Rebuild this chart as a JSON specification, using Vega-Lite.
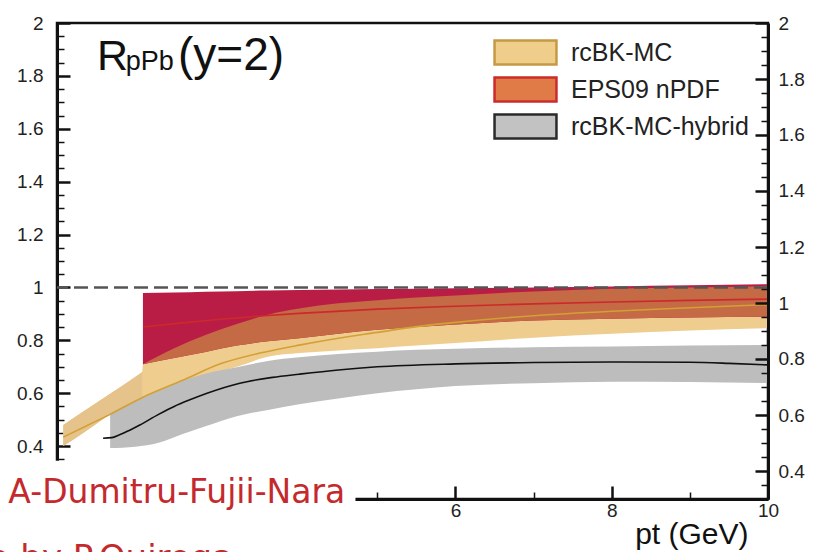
{
  "$schema": "https://vega.github.io/schema/vega-lite/v6.json",
  "width": 711,
  "height": 476,
  "autosize": {"type": "none"},
  "padding": {"left": 57, "top": 23, "right": 47, "bottom": 53},
  "background": "white",
  "config": {"view": {"stroke": "#111", "strokeWidth": 2.5}, "font": "Liberation Sans"},
  "datasets": {
    "bands": [
      {"series": "rcBK-MC", "pt": 0.98, "lo": 0.40, "hi": 0.48},
      {"series": "rcBK-MC", "pt": 1.3, "lo": 0.463, "hi": 0.543},
      {"series": "rcBK-MC", "pt": 1.58, "lo": 0.52, "hi": 0.598},
      {"series": "rcBK-MC", "pt": 1.99, "lo": 0.57, "hi": 0.68},
      {"series": "rcBK-MC", "pt": 2.0, "lo": 0.575, "hi": 0.71},
      {"series": "rcBK-MC", "pt": 2.4, "lo": 0.62, "hi": 0.77},
      {"series": "rcBK-MC", "pt": 2.8, "lo": 0.665, "hi": 0.82},
      {"series": "rcBK-MC", "pt": 3.2, "lo": 0.70, "hi": 0.862},
      {"series": "rcBK-MC", "pt": 3.6, "lo": 0.738, "hi": 0.897},
      {"series": "rcBK-MC", "pt": 4.0, "lo": 0.752, "hi": 0.92},
      {"series": "rcBK-MC", "pt": 4.5, "lo": 0.762, "hi": 0.94},
      {"series": "rcBK-MC", "pt": 5.0, "lo": 0.77, "hi": 0.952},
      {"series": "rcBK-MC", "pt": 5.5, "lo": 0.78, "hi": 0.962},
      {"series": "rcBK-MC", "pt": 6.0, "lo": 0.79, "hi": 0.97},
      {"series": "rcBK-MC", "pt": 7.0, "lo": 0.81, "hi": 0.985},
      {"series": "rcBK-MC", "pt": 8.0, "lo": 0.825, "hi": 0.995},
      {"series": "rcBK-MC", "pt": 9.0, "lo": 0.837, "hi": 1.0},
      {"series": "rcBK-MC", "pt": 10.0, "lo": 0.846, "hi": 1.005},
      {"series": "EPS09 nPDF", "pt": 2.0, "lo": 0.71, "hi": 0.979},
      {"series": "EPS09 nPDF", "pt": 2.4, "lo": 0.733, "hi": 0.981},
      {"series": "EPS09 nPDF", "pt": 2.8, "lo": 0.756, "hi": 0.984},
      {"series": "EPS09 nPDF", "pt": 3.2, "lo": 0.78, "hi": 0.986},
      {"series": "EPS09 nPDF", "pt": 3.6, "lo": 0.797, "hi": 0.988},
      {"series": "EPS09 nPDF", "pt": 4.0, "lo": 0.808, "hi": 0.99},
      {"series": "EPS09 nPDF", "pt": 4.5, "lo": 0.825, "hi": 0.992},
      {"series": "EPS09 nPDF", "pt": 5.0, "lo": 0.84, "hi": 0.994},
      {"series": "EPS09 nPDF", "pt": 5.5, "lo": 0.85, "hi": 0.995},
      {"series": "EPS09 nPDF", "pt": 6.0, "lo": 0.86, "hi": 0.997},
      {"series": "EPS09 nPDF", "pt": 7.0, "lo": 0.875, "hi": 1.0},
      {"series": "EPS09 nPDF", "pt": 8.0, "lo": 0.882, "hi": 1.004},
      {"series": "EPS09 nPDF", "pt": 9.0, "lo": 0.886, "hi": 1.008},
      {"series": "EPS09 nPDF", "pt": 10.0, "lo": 0.889, "hi": 1.012},
      {"series": "overlap", "pt": 2.0, "lo": 0.71, "hi": 0.71},
      {"series": "overlap", "pt": 2.4, "lo": 0.733, "hi": 0.77},
      {"series": "overlap", "pt": 2.8, "lo": 0.756, "hi": 0.82},
      {"series": "overlap", "pt": 3.2, "lo": 0.78, "hi": 0.862},
      {"series": "overlap", "pt": 3.6, "lo": 0.797, "hi": 0.897},
      {"series": "overlap", "pt": 4.0, "lo": 0.808, "hi": 0.92},
      {"series": "overlap", "pt": 4.5, "lo": 0.825, "hi": 0.94},
      {"series": "overlap", "pt": 5.0, "lo": 0.84, "hi": 0.952},
      {"series": "overlap", "pt": 5.5, "lo": 0.85, "hi": 0.962},
      {"series": "overlap", "pt": 6.0, "lo": 0.86, "hi": 0.97},
      {"series": "overlap", "pt": 7.0, "lo": 0.875, "hi": 0.985},
      {"series": "overlap", "pt": 8.0, "lo": 0.882, "hi": 0.995},
      {"series": "overlap", "pt": 9.0, "lo": 0.886, "hi": 1.0},
      {"series": "overlap", "pt": 10.0, "lo": 0.889, "hi": 1.005},
      {"series": "rcBK-MC-hybrid", "pt": 1.58, "lo": 0.393, "hi": 0.525},
      {"series": "rcBK-MC-hybrid", "pt": 1.9, "lo": 0.398, "hi": 0.572},
      {"series": "rcBK-MC-hybrid", "pt": 2.2, "lo": 0.413, "hi": 0.612},
      {"series": "rcBK-MC-hybrid", "pt": 2.5, "lo": 0.445, "hi": 0.647},
      {"series": "rcBK-MC-hybrid", "pt": 2.8, "lo": 0.475, "hi": 0.674},
      {"series": "rcBK-MC-hybrid", "pt": 3.2, "lo": 0.513, "hi": 0.698},
      {"series": "rcBK-MC-hybrid", "pt": 3.6, "lo": 0.537, "hi": 0.722},
      {"series": "rcBK-MC-hybrid", "pt": 4.0, "lo": 0.558, "hi": 0.736},
      {"series": "rcBK-MC-hybrid", "pt": 4.5, "lo": 0.58, "hi": 0.748},
      {"series": "rcBK-MC-hybrid", "pt": 5.0, "lo": 0.60, "hi": 0.757},
      {"series": "rcBK-MC-hybrid", "pt": 5.5, "lo": 0.615, "hi": 0.764},
      {"series": "rcBK-MC-hybrid", "pt": 6.0, "lo": 0.627, "hi": 0.768},
      {"series": "rcBK-MC-hybrid", "pt": 7.0, "lo": 0.638, "hi": 0.774},
      {"series": "rcBK-MC-hybrid", "pt": 8.0, "lo": 0.643, "hi": 0.777},
      {"series": "rcBK-MC-hybrid", "pt": 9.0, "lo": 0.642, "hi": 0.78},
      {"series": "rcBK-MC-hybrid", "pt": 10.0, "lo": 0.638, "hi": 0.782}
    ],
    "curves": [
      {"series": "rcBK-MC", "pt": 0.98, "r": 0.434},
      {"series": "rcBK-MC", "pt": 1.3, "r": 0.48},
      {"series": "rcBK-MC", "pt": 1.58, "r": 0.52},
      {"series": "rcBK-MC", "pt": 2.0, "r": 0.585},
      {"series": "rcBK-MC", "pt": 2.5, "r": 0.648},
      {"series": "rcBK-MC", "pt": 3.0, "r": 0.712},
      {"series": "rcBK-MC", "pt": 3.5, "r": 0.752},
      {"series": "rcBK-MC", "pt": 4.0, "r": 0.782},
      {"series": "rcBK-MC", "pt": 4.5, "r": 0.808},
      {"series": "rcBK-MC", "pt": 5.0, "r": 0.83},
      {"series": "rcBK-MC", "pt": 5.5, "r": 0.852},
      {"series": "rcBK-MC", "pt": 6.0, "r": 0.868},
      {"series": "rcBK-MC", "pt": 7.0, "r": 0.893},
      {"series": "rcBK-MC", "pt": 8.0, "r": 0.91},
      {"series": "rcBK-MC", "pt": 9.0, "r": 0.923},
      {"series": "rcBK-MC", "pt": 10.0, "r": 0.935},
      {"series": "EPS09 nPDF", "pt": 2.0, "r": 0.85},
      {"series": "EPS09 nPDF", "pt": 2.5, "r": 0.866},
      {"series": "EPS09 nPDF", "pt": 3.0, "r": 0.88},
      {"series": "EPS09 nPDF", "pt": 3.5, "r": 0.892},
      {"series": "EPS09 nPDF", "pt": 4.0, "r": 0.902},
      {"series": "EPS09 nPDF", "pt": 5.0, "r": 0.918},
      {"series": "EPS09 nPDF", "pt": 6.0, "r": 0.929},
      {"series": "EPS09 nPDF", "pt": 7.0, "r": 0.938},
      {"series": "EPS09 nPDF", "pt": 8.0, "r": 0.945},
      {"series": "EPS09 nPDF", "pt": 9.0, "r": 0.951},
      {"series": "EPS09 nPDF", "pt": 10.0, "r": 0.956},
      {"series": "rcBK-MC-hybrid", "pt": 1.49, "r": 0.43},
      {"series": "rcBK-MC-hybrid", "pt": 1.6, "r": 0.432},
      {"series": "rcBK-MC-hybrid", "pt": 1.7, "r": 0.443},
      {"series": "rcBK-MC-hybrid", "pt": 1.8, "r": 0.456},
      {"series": "rcBK-MC-hybrid", "pt": 1.96, "r": 0.48},
      {"series": "rcBK-MC-hybrid", "pt": 2.2, "r": 0.52},
      {"series": "rcBK-MC-hybrid", "pt": 2.4, "r": 0.55},
      {"series": "rcBK-MC-hybrid", "pt": 2.6, "r": 0.575},
      {"series": "rcBK-MC-hybrid", "pt": 2.82, "r": 0.60},
      {"series": "rcBK-MC-hybrid", "pt": 3.24, "r": 0.638},
      {"series": "rcBK-MC-hybrid", "pt": 3.66, "r": 0.66},
      {"series": "rcBK-MC-hybrid", "pt": 4.0, "r": 0.672},
      {"series": "rcBK-MC-hybrid", "pt": 4.5, "r": 0.688},
      {"series": "rcBK-MC-hybrid", "pt": 5.0, "r": 0.70},
      {"series": "rcBK-MC-hybrid", "pt": 6.0, "r": 0.711},
      {"series": "rcBK-MC-hybrid", "pt": 7.0, "r": 0.716},
      {"series": "rcBK-MC-hybrid", "pt": 8.0, "r": 0.718},
      {"series": "rcBK-MC-hybrid", "pt": 9.0, "r": 0.717},
      {"series": "rcBK-MC-hybrid", "pt": 9.5, "r": 0.713},
      {"series": "rcBK-MC-hybrid", "pt": 10.0, "r": 0.707}
    ]
  },
  "layer": [
    {
      "data": {"name": "bands"},
      "transform": [{"filter": "datum.series === 'rcBK-MC'"}],
      "mark": {"type": "area", "color": "#EECD8F", "interpolate": "monotone"},
      "encoding": {
        "x": {
          "field": "pt", "type": "quantitative", "title": "pt (GeV)",
          "scale": {"domain": [0.9, 10], "nice": false, "zero": false},
          "axis": {
            "orient": "bottom", "grid": false,
            "values": [1, 1.5, 2, 2.5, 3, 3.5, 4, 4.5, 5, 5.5, 6, 6.5, 7, 7.5, 8, 8.5, 9, 9.5, 10],
            "labelExpr": "datum.value % 2 === 0 && datum.value >= 6 ? format(datum.value, 'd') : ''",
            "tickSize": {"condition": {"test": "datum.value % 2 === 0", "value": -13}, "value": -7},
            "tickWidth": {"condition": {"test": "datum.value % 2 === 0", "value": 2.5}, "value": 1.5},
            "tickColor": "#111", "domainColor": "#111", "domainWidth": 3,
            "labelFont": "Liberation Sans", "labelFontSize": 19, "labelColor": "#222", "labelPadding": 15,
            "labelOverlap": false, "labelFlush": false, "labelBound": false,
            "titleFont": "Liberation Sans", "titleFontSize": 30, "titleFontWeight": "normal", "titleColor": "#111",
            "titleX": 691, "titleY": 44, "titleAlign": "right", "titleBaseline": "alphabetic"
          }
        },
        "y": {
          "field": "lo", "type": "quantitative", "title": null,
          "scale": {"domain": [0.2, 2], "nice": false, "zero": false},
          "axis": {
            "orient": "left", "grid": false,
            "values": [0.35, 0.4, 0.45, 0.5, 0.55, 0.6, 0.65, 0.7, 0.75, 0.8, 0.85, 0.9, 0.95, 1, 1.05, 1.1, 1.15, 1.2, 1.25, 1.3, 1.35, 1.4, 1.45, 1.5, 1.55, 1.6, 1.65, 1.7, 1.75, 1.8, 1.85, 1.9, 1.95, 2],
            "labelExpr": "abs(datum.value*5 - round(datum.value*5)) < 0.01 ? format(datum.value, '.1~f') : ''",
            "tickSize": {"condition": {"test": "abs(datum.value*5 - round(datum.value*5)) < 0.01", "value": -13}, "value": -7},
            "tickWidth": {"condition": {"test": "abs(datum.value*5 - round(datum.value*5)) < 0.01", "value": 2.5}, "value": 1.5},
            "tickColor": "#111", "domainColor": "#111", "domainWidth": 3,
            "labelFont": "Liberation Sans", "labelFontSize": 19, "labelColor": "#222", "labelPadding": 27,
            "labelOverlap": false, "labelFlush": false, "labelBound": false
          }
        },
        "y2": {"field": "hi"}
      }
    },
    {
      "data": {"values": [{}]},
      "mark": {"type": "rule", "opacity": 0},
      "encoding": {
        "y": {
          "datum": 1, "type": "quantitative", "title": null,
          "axis": {
            "orient": "right", "grid": false, "zindex": 1,
            "values": [0.252941, 0.305882, 0.358824, 0.411765, 0.464706, 0.517647, 0.570588, 0.623529, 0.676471, 0.729412, 0.782353, 0.835294, 0.888235, 0.941176, 0.994118, 1.047059, 1.1, 1.152941, 1.205882, 1.258824, 1.311765, 1.364706, 1.417647, 1.470588, 1.523529, 1.576471, 1.629412, 1.682353, 1.735294, 1.788235, 1.841176, 1.894118, 1.947059, 2],
            "labelExpr": "abs((2-(2-datum.value)*17/18)*5 - round((2-(2-datum.value)*17/18)*5)) < 0.01 ? format(2-(2-datum.value)*17/18, '.1~f') : ''",
            "tickSize": {"condition": {"test": "abs((2-(2-datum.value)*17/18)*5 - round((2-(2-datum.value)*17/18)*5)) < 0.01", "value": -13}, "value": -7},
            "tickWidth": {"condition": {"test": "abs((2-(2-datum.value)*17/18)*5 - round((2-(2-datum.value)*17/18)*5)) < 0.01", "value": 2.5}, "value": 1.5},
            "tickColor": "#111", "domainColor": "#111", "domainWidth": 3,
            "labelFont": "Liberation Sans", "labelFontSize": 19, "labelColor": "#222", "labelPadding": 23,
            "labelOverlap": false, "labelFlush": false, "labelBound": false
          }
        }
      }
    },
    {
      "data": {"name": "bands"},
      "transform": [{"filter": "datum.series === 'rcBK-MC' && datum.pt < 2"}],
      "mark": {"type": "area", "color": "#E6C38A", "interpolate": "monotone"},
      "encoding": {"x": {"field": "pt", "type": "quantitative"}, "y": {"field": "lo", "type": "quantitative", "title": null, "axis": null}, "y2": {"field": "hi"}}
    },
    {
      "data": {"name": "bands"},
      "transform": [{"filter": "datum.series === 'EPS09 nPDF'"}],
      "mark": {"type": "area", "color": "#B91D45", "interpolate": "monotone"},
      "encoding": {"x": {"field": "pt", "type": "quantitative"}, "y": {"field": "lo", "type": "quantitative", "title": null, "axis": null}, "y2": {"field": "hi"}}
    },
    {
      "data": {"name": "bands"},
      "transform": [{"filter": "datum.series === 'overlap'"}],
      "mark": {"type": "area", "color": "#C46A45", "interpolate": "monotone"},
      "encoding": {"x": {"field": "pt", "type": "quantitative"}, "y": {"field": "lo", "type": "quantitative", "title": null, "axis": null}, "y2": {"field": "hi"}}
    },
    {
      "data": {"name": "bands"},
      "transform": [{"filter": "datum.series === 'rcBK-MC-hybrid'"}],
      "mark": {"type": "area", "color": "#BDBDBD", "interpolate": "monotone"},
      "encoding": {"x": {"field": "pt", "type": "quantitative"}, "y": {"field": "lo", "type": "quantitative", "title": null, "axis": null}, "y2": {"field": "hi"}}
    },
    {
      "data": {"name": "curves"},
      "transform": [{"filter": "datum.series === 'rcBK-MC'"}],
      "mark": {"type": "line", "color": "#D3A035", "strokeWidth": 1.6, "interpolate": "monotone"},
      "encoding": {"x": {"field": "pt", "type": "quantitative"}, "y": {"field": "r", "type": "quantitative", "title": null, "axis": null}}
    },
    {
      "data": {"name": "curves"},
      "transform": [{"filter": "datum.series === 'EPS09 nPDF'"}],
      "mark": {"type": "line", "color": "#CC2A2A", "strokeWidth": 1.6, "interpolate": "monotone"},
      "encoding": {"x": {"field": "pt", "type": "quantitative"}, "y": {"field": "r", "type": "quantitative", "title": null, "axis": null}}
    },
    {
      "data": {"name": "curves"},
      "transform": [{"filter": "datum.series === 'rcBK-MC-hybrid'"}],
      "mark": {"type": "line", "color": "#111111", "strokeWidth": 1.6, "interpolate": "monotone"},
      "encoding": {"x": {"field": "pt", "type": "quantitative"}, "y": {"field": "r", "type": "quantitative", "title": null, "axis": null}}
    },
    {
      "data": {"values": [{}]},
      "mark": {"type": "rule", "color": "#555555", "strokeWidth": 2.5, "strokeDash": [14, 6]},
      "encoding": {"y": {"datum": 1, "type": "quantitative", "title": null, "axis": null}}
    },
    {
      "data": {"values": [{}]},
      "mark": {"type": "rect", "color": "white", "clip": false},
      "encoding": {
        "x": {"datum": -1, "type": "quantitative", "title": null},
        "x2": {"datum": 4.72},
        "y": {"datum": 0.345, "type": "quantitative", "title": null, "axis": null},
        "y2": {"datum": -0.6}
      }
    },
    {
      "data": {"values": [{}]},
      "mark": {"type": "text", "text": "A-Dumitru-Fujii-Nara", "font": "DejaVu Sans", "fontSize": 33, "color": "#C42A2D", "align": "right", "baseline": "alphabetic", "clip": false},
      "encoding": {"x": {"datum": 4.59, "type": "quantitative", "title": null}, "y": {"datum": 0.1846, "type": "quantitative", "title": null, "axis": null}}
    },
    {
      "data": {"values": [{}]},
      "mark": {"type": "text", "text": "a by P.Quiroga", "font": "DejaVu Sans", "fontSize": 34, "color": "#C42A2D", "align": "right", "baseline": "alphabetic", "clip": false},
      "encoding": {"x": {"datum": 3.153, "type": "quantitative", "title": null}, "y": {"datum": -0.065, "type": "quantitative", "title": null, "axis": null}}
    },
    {
      "data": {"values": [{}]},
      "mark": {"type": "text", "text": "R", "font": "Liberation Sans", "fontSize": 43, "color": "#111", "align": "left", "baseline": "alphabetic"},
      "encoding": {"x": {"datum": 1.412, "type": "quantitative", "title": null}, "y": {"datum": 1.822, "type": "quantitative", "title": null, "axis": null}}
    },
    {
      "data": {"values": [{}]},
      "mark": {"type": "text", "text": "pPb", "font": "Liberation Sans", "fontSize": 27, "color": "#111", "align": "left", "baseline": "alphabetic"},
      "encoding": {"x": {"datum": 1.78, "type": "quantitative", "title": null}, "y": {"datum": 1.822, "type": "quantitative", "title": null, "axis": null}}
    },
    {
      "data": {"values": [{}]},
      "mark": {"type": "text", "text": "(y=2)", "font": "Liberation Sans", "fontSize": 46, "color": "#111", "align": "left", "baseline": "alphabetic"},
      "encoding": {"x": {"datum": 2.449, "type": "quantitative", "title": null}, "y": {"datum": 1.822, "type": "quantitative", "title": null, "axis": null}}
    },
    {
      "data": {"name": "curves"},
      "mark": {"type": "point", "opacity": 0, "filled": true},
      "encoding": {
        "x": {"field": "pt", "type": "quantitative"},
        "y": {"field": "r", "type": "quantitative", "title": null, "axis": null},
        "fill": {
          "field": "series", "type": "nominal",
          "scale": {"domain": ["rcBK-MC", "EPS09 nPDF", "rcBK-MC-hybrid"], "range": ["#EFCD8B", "#E07B48", "#C2C2C2"]},
          "legend": {"title": null, "orient": "none", "legendX": 455, "legendY": 16, "padding": 0,
            "symbolType": "M-2.58,-1H2.58V1H-2.58Z", "symbolSize": 576, "symbolStrokeWidth": 2.5, "symbolOpacity": 1,
            "labelFont": "Liberation Sans", "labelFontSize": 25, "labelColor": "#222", "labelOffset": 32, "labelLimit": 0, "rowPadding": 2}
        },
        "stroke": {
          "field": "series", "type": "nominal",
          "scale": {"domain": ["rcBK-MC", "EPS09 nPDF", "rcBK-MC-hybrid"], "range": ["#C49A44", "#CC2B2B", "#2A2A2A"]},
          "legend": {"title": null, "orient": "none", "legendX": 455, "legendY": 16, "padding": 0,
            "symbolType": "M-2.58,-1H2.58V1H-2.58Z", "symbolSize": 576, "symbolStrokeWidth": 2.5, "symbolOpacity": 1,
            "labelFont": "Liberation Sans", "labelFontSize": 25, "labelColor": "#222", "labelOffset": 32, "labelLimit": 0, "rowPadding": 2}
        }
      }
    }
  ],
  "resolve": {"axis": {"y": "independent"}}
}
